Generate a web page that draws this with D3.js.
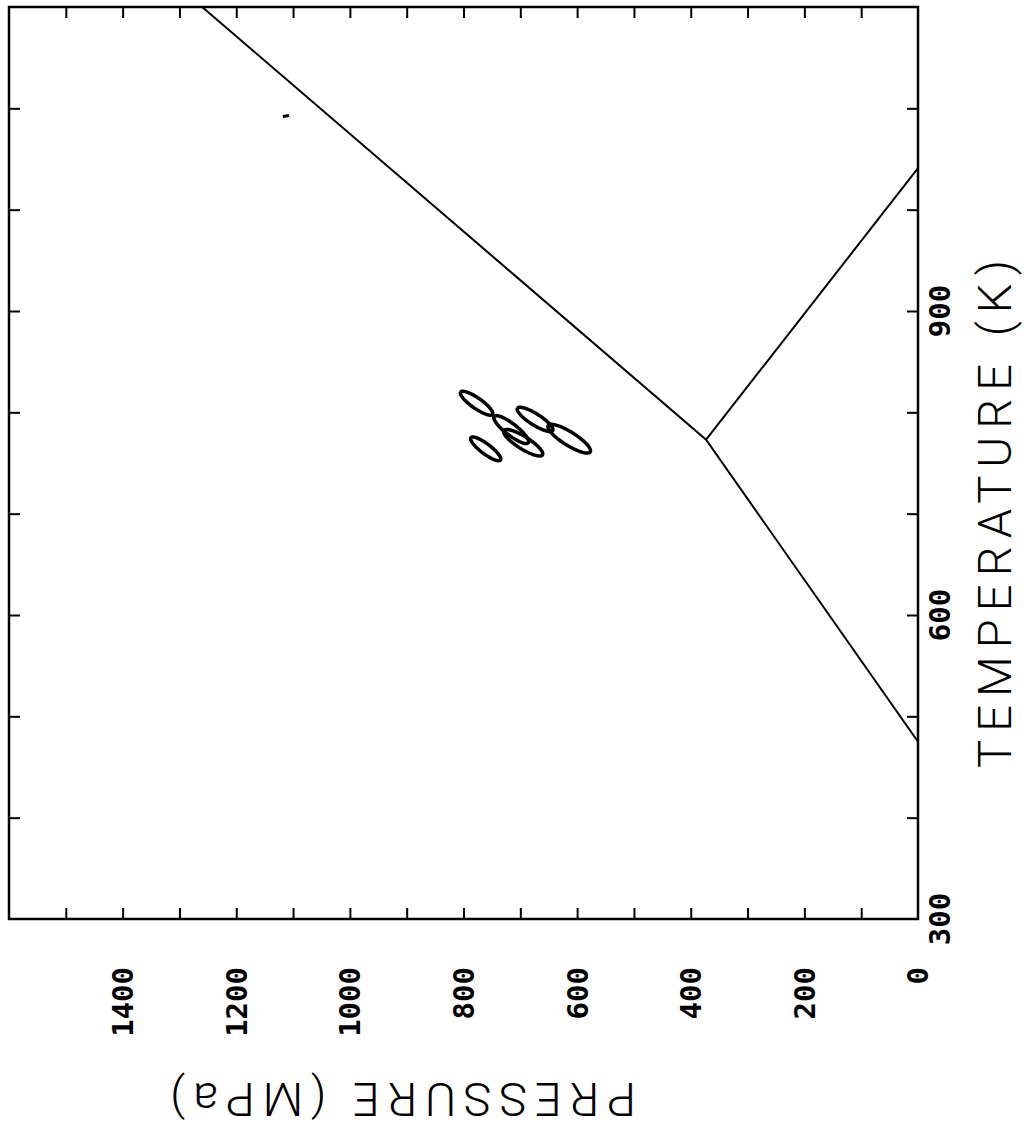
<!DOCTYPE html>
<html>
<head>
<meta charset="utf-8">
<script src="https://cdn.jsdelivr.net/npm/d3@7"></script>
<style>
  body { margin: 0; background: #fff; }
  svg { display: block; }
  .tick-label { font-family: "DejaVu Sans Mono", monospace; font-weight: bold; font-size: 29px; }
  .title { font-family: Roboto, "DejaVu Sans", sans-serif; font-weight: 300; font-size: 47px; }
</style>
</head>
<body>
<svg width="1026" height="1129"></svg>
<script>
// pressure (MPa) ticks along the bottom, temperature (K) up the right side
const pressureTicks = [0, 200, 400, 600, 800, 1000, 1200, 1400];
const pressureMinor = [100, 200, 300, 400, 500, 600, 700, 800, 900, 1000, 1100, 1200, 1300, 1400, 1500];
const temperatureTicks = [300, 600, 900];
const temperatureMinor = [400, 500, 600, 700, 800, 900, 1000, 1100];

// phase boundaries
const boundaryA = [
  { p: 0, t: 475 },
  { p: 373, t: 773 },
  { p: 1260, t: 1200 }
];
const boundaryB = [
  { p: 373, t: 773 },
  { p: 0, t: 1041 }
];
// tiny stray mark
const strayMark = [
  { p: 1118, t: 1092 },
  { p: 1107, t: 1093 }
];

// error ellipses: centre and semi-major axis vector (data units)
const ellP  = [777, 761, 716, 695, 674, 614];
const ellT  = [809, 764, 783, 770, 793, 774];
const ellDP = [28, 26, 30, 34, 31, 37];
const ellDT = [11, 11, 13, 12, 11, 13];
const minorRatio = 0.27;

const svg = d3.select('svg');
const x = d3.scaleLinear().domain([0, 1600]).range([918, 9]);
const y = d3.scaleLinear().domain([300, 1200]).range([919, 7]);

// frame
svg.append('rect')
  .attr('x', x(1600)).attr('y', y(1200))
  .attr('width', x(0) - x(1600)).attr('height', y(300) - y(1200))
  .attr('fill', 'none').attr('stroke', '#000').attr('stroke-width', 2.5);

// inward ticks on all four sides
const tickLen = 11;
svg.append('g').attr('transform', `translate(0,${y(300)})`)
  .call(d3.axisBottom(x).tickValues(pressureMinor).tickSize(-tickLen).tickFormat(''))
  .call(g => g.select('.domain').remove())
  .selectAll('line').attr('stroke-width', 2);
svg.append('g').attr('transform', `translate(0,${y(1200)})`)
  .call(d3.axisTop(x).tickValues(pressureMinor).tickSize(-tickLen).tickFormat(''))
  .call(g => g.select('.domain').remove())
  .selectAll('line').attr('stroke-width', 2);
svg.append('g').attr('transform', `translate(${x(0)},0)`)
  .call(d3.axisRight(y).tickValues(temperatureMinor).tickSize(-tickLen).tickFormat(''))
  .call(g => g.select('.domain').remove())
  .selectAll('line').attr('stroke-width', 2);
svg.append('g').attr('transform', `translate(${x(1600)},0)`)
  .call(d3.axisLeft(y).tickValues(temperatureMinor).tickSize(-tickLen).tickFormat(''))
  .call(g => g.select('.domain').remove())
  .selectAll('line').attr('stroke-width', 2);

// rotated tick labels
svg.append('g').selectAll('text')
  .data(pressureTicks)
  .join('text')
  .attr('class', 'tick-label')
  .attr('transform', d => `translate(${x(d)},${y(300) + 48}) rotate(-90)`)
  .attr('text-anchor', 'end')
  .attr('dy', '0.36em')
  .text(d => d);

svg.append('g').selectAll('text')
  .data(temperatureTicks)
  .join('text')
  .attr('class', 'tick-label')
  .attr('transform', d => `translate(${x(0) + 32},${y(d)}) rotate(-90)`)
  .attr('text-anchor', 'middle')
  .text(d => d);

// axis titles
svg.append('text')
  .attr('class', 'title')
  .attr('transform', `translate(1011,514) rotate(-90)`)
  .attr('text-anchor', 'middle')
  .attr('textLength', 508).attr('lengthAdjust', 'spacing')
  .text('TEMPERATURE (K)');

svg.append('text')
  .attr('class', 'title')
  .attr('transform', `translate(403,1083) rotate(180)`)
  .attr('text-anchor', 'middle')
  .attr('textLength', 466).attr('lengthAdjust', 'spacing')
  .text('PRESSURE (MPa)');

// boundaries, clipped to the frame
svg.append('clipPath').attr('id', 'frame')
  .append('rect')
  .attr('x', x(1600)).attr('y', y(1200))
  .attr('width', x(0) - x(1600)).attr('height', y(300) - y(1200));

const line = d3.line().x(d => x(d.p)).y(d => y(d.t));
const plot = svg.append('g').attr('clip-path', 'url(#frame)');
[boundaryA, boundaryB].forEach(b => {
  plot.append('path').attr('d', line(b))
    .attr('fill', 'none').attr('stroke', '#000').attr('stroke-width', 2);
});
plot.append('path').attr('d', line(strayMark))
  .attr('fill', 'none').attr('stroke', '#000').attr('stroke-width', 3);

// ellipses: build each outline in pixel space from the scaled axes
ellP.forEach((p, i) => {
  const cx = x(p), cy = y(ellT[i]);
  const ax = x(p + ellDP[i]) - cx, ay = y(ellT[i] + ellDT[i]) - cy;
  const bx = -ay * minorRatio, by = ax * minorRatio;
  const pts = d3.range(0, 73).map(k => {
    const a = k / 72 * 2 * Math.PI;
    return [cx + ax * Math.cos(a) + bx * Math.sin(a), cy + ay * Math.cos(a) + by * Math.sin(a)];
  });
  plot.append('path').attr('d', d3.line()(pts))
    .attr('fill', 'none').attr('stroke', '#000').attr('stroke-width', 3.5);
});
</script>
</body>
</html>
